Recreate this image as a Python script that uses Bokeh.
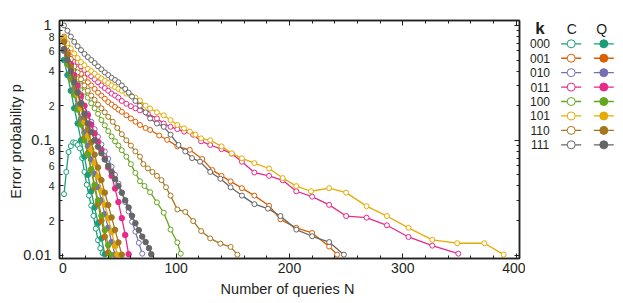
from bokeh.plotting import figure
from bokeh.layouts import row
from bokeh.models import Range1d, LinearAxis, LogAxis, FixedTicker, CustomLabelingPolicy
from bokeh.core.properties import value
from bokeh.embed import file_html
from bokeh.resources import INLINE

# ---------------- data ----------------
K = ["000", "001", "010", "011", "100", "101", "110", "111"]
COLORS = ["#1b9e77", "#d95f02", "#7570b3", "#e7298a", "#66a61e", "#e6ab02", "#a6761d", "#666666"]

# classical strategy (C, open markers)
N_C_000 = [1, 3, 5, 7, 9, 11, 13, 15, 17, 19, 21, 23, 25, 27, 29, 31, 33, 35]
P_C_000 = [0.034, 0.053, 0.079, 0.089, 0.096, 0.095, 0.091, 0.085, 0.07, 0.053, 0.041, 0.033, 0.027, 0.022, 0.017, 0.0135, 0.0115, 0.0104]

N_C_001 = [1, 4, 7, 10, 13, 16, 19, 22, 25, 28, 31, 34, 37, 40, 43, 46, 49, 52, 56, 60, 64, 68, 73, 77, 85, 92, 101, 112, 123, 132, 140, 148, 158, 169, 182, 192, 206, 220, 235, 242]
P_C_001 = [0.8, 0.66, 0.56, 0.48, 0.42, 0.38, 0.35, 0.32, 0.3, 0.28, 0.26, 0.245, 0.23, 0.215, 0.205, 0.195, 0.185, 0.177, 0.165, 0.155, 0.145, 0.136, 0.128, 0.123, 0.11, 0.101, 0.0885, 0.0826, 0.0687, 0.055, 0.049, 0.0439, 0.0383, 0.033, 0.0269, 0.0205, 0.0173, 0.0156, 0.0119, 0.0101]

N_C_010 = [1, 4, 7, 10, 13, 16, 19, 22, 25, 28, 31, 34, 37, 40, 43, 46, 49, 52, 55, 58, 61, 64, 67, 70]
P_C_010 = [0.62, 0.5, 0.41, 0.34, 0.28, 0.235, 0.2, 0.17, 0.145, 0.125, 0.107, 0.092, 0.08, 0.069, 0.059, 0.05, 0.042, 0.035, 0.029, 0.024, 0.0195, 0.016, 0.0128, 0.0103]

N_C_011 = [1, 4, 7, 10, 13, 16, 19, 22, 25, 28, 31, 34, 37, 40, 43, 46, 49, 52, 56, 60, 64, 68, 75, 83, 89, 95, 101, 107, 115, 122, 130, 140, 149, 158, 169, 182, 194, 206, 220, 235, 250, 268, 286, 305, 326, 349]
P_C_011 = [0.75, 0.66, 0.59, 0.53, 0.48, 0.44, 0.41, 0.38, 0.36, 0.34, 0.32, 0.3, 0.285, 0.27, 0.255, 0.245, 0.235, 0.22, 0.208, 0.198, 0.19, 0.182, 0.17, 0.155, 0.14, 0.131, 0.125, 0.119, 0.112, 0.098, 0.091, 0.0837, 0.0765, 0.065, 0.0524, 0.049, 0.0448, 0.036, 0.0323, 0.0274, 0.0219, 0.0212, 0.0182, 0.0144, 0.0121, 0.0103]

N_C_100 = [1, 4, 7, 10, 13, 16, 19, 22, 25, 28, 31, 34, 37, 40, 43, 46, 49, 52, 56, 60, 64, 68, 72, 77, 83, 89, 95, 101, 104]
P_C_100 = [0.62, 0.52, 0.45, 0.39, 0.34, 0.3, 0.265, 0.235, 0.21, 0.19, 0.17, 0.15, 0.135, 0.12, 0.108, 0.098, 0.09, 0.082, 0.072, 0.062, 0.052, 0.044, 0.04, 0.0353, 0.0288, 0.0234, 0.0167, 0.0129, 0.0103]

N_C_101 = [1, 4, 7, 10, 13, 16, 19, 22, 25, 28, 31, 34, 37, 40, 43, 46, 49, 52, 56, 60, 64, 68, 73, 77, 83, 89, 95, 101, 107, 112, 117, 122, 130, 140, 149, 158, 169, 182, 194, 206, 219, 235, 250, 268, 286, 305, 326, 348, 372, 389]
P_C_101 = [0.78, 0.7, 0.63, 0.57, 0.52, 0.48, 0.45, 0.42, 0.4, 0.38, 0.36, 0.345, 0.33, 0.315, 0.3, 0.29, 0.28, 0.27, 0.255, 0.245, 0.235, 0.222, 0.2, 0.189, 0.175, 0.165, 0.15, 0.136, 0.127, 0.119, 0.112, 0.104, 0.1, 0.0885, 0.077, 0.0697, 0.0633, 0.0568, 0.0469, 0.0399, 0.036, 0.0383, 0.035, 0.0267, 0.0219, 0.0173, 0.0136, 0.0127, 0.0127, 0.0101]

N_C_110 = [1, 4, 7, 10, 13, 16, 19, 22, 25, 28, 31, 34, 37, 40, 44, 48, 52, 56, 60, 64, 68, 71, 75, 79, 83, 87, 91, 95, 101, 108, 115, 122, 130, 139, 148, 154]
P_C_110 = [0.72, 0.6, 0.51, 0.44, 0.39, 0.34, 0.3, 0.27, 0.245, 0.225, 0.205, 0.19, 0.175, 0.16, 0.145, 0.128, 0.113, 0.1, 0.09, 0.08, 0.072, 0.062, 0.057, 0.053, 0.049, 0.045, 0.039, 0.033, 0.025, 0.0238, 0.0198, 0.0162, 0.014, 0.0126, 0.0118, 0.0101]

N_C_111 = [1, 4, 7, 10, 13, 16, 19, 22, 25, 28, 31, 34, 37, 40, 43, 46, 49, 52, 55, 58, 61, 64, 68, 73, 77, 83, 89, 95, 102, 108, 114, 121, 130, 139, 148, 158, 169, 181, 192, 206, 220, 235, 248]
P_C_111 = [1.0, 0.9, 0.8, 0.72, 0.66, 0.61, 0.565, 0.53, 0.5, 0.47, 0.44, 0.415, 0.39, 0.37, 0.35, 0.335, 0.32, 0.3, 0.28, 0.26, 0.24, 0.22, 0.2, 0.175, 0.155, 0.14, 0.131, 0.112, 0.091, 0.08, 0.07, 0.0652, 0.053, 0.0462, 0.039, 0.033, 0.0278, 0.0254, 0.0219, 0.0167, 0.0146, 0.013, 0.0101]

# quantum strategy (Q, filled markers)
N_Q_000 = [1, 4, 7, 10, 13, 16, 19, 22, 25, 28, 31, 34, 37]
P_Q_000 = [0.5, 0.37, 0.27, 0.19, 0.14, 0.1, 0.072, 0.05, 0.036, 0.026, 0.019, 0.014, 0.0102]

N_Q_001 = [1, 4, 7, 10, 13, 16, 19, 22, 25, 28, 31, 34, 37, 40]
P_Q_001 = [0.75, 0.54, 0.39, 0.28, 0.2, 0.146, 0.105, 0.077, 0.055, 0.039, 0.028, 0.02, 0.0145, 0.0105]

N_Q_010 = [1, 4, 7, 10, 13, 16, 19, 22, 25, 28, 31, 34, 37, 40, 43, 46]
P_Q_010 = [0.6, 0.46, 0.35, 0.265, 0.2, 0.153, 0.117, 0.089, 0.068, 0.051, 0.039, 0.03, 0.0227, 0.0173, 0.013, 0.0101]

N_Q_011 = [1, 4, 7, 10, 13, 16, 19, 22, 25, 28, 31, 34, 37, 40, 43, 46, 49, 52, 55, 58]
P_Q_011 = [0.72, 0.58, 0.46, 0.37, 0.3, 0.245, 0.2, 0.165, 0.137, 0.115, 0.097, 0.082, 0.069, 0.058, 0.049, 0.038, 0.029, 0.021, 0.015, 0.0102]

N_Q_100 = [1, 4, 7, 10, 13, 16, 19, 22, 25, 28, 31, 34, 37, 40, 42]
P_Q_100 = [0.62, 0.46, 0.34, 0.25, 0.185, 0.137, 0.1, 0.075, 0.056, 0.041, 0.03, 0.022, 0.0165, 0.0122, 0.0101]

N_Q_101 = [1, 4, 7, 10, 13, 16, 19, 22, 25, 28, 31, 34, 37, 40, 43, 46, 48]
P_Q_101 = [0.75, 0.57, 0.43, 0.33, 0.25, 0.19, 0.144, 0.109, 0.083, 0.063, 0.048, 0.036, 0.0275, 0.021, 0.0159, 0.012, 0.0101]

N_Q_110 = [1, 4, 7, 10, 13, 16, 19, 22, 25, 28, 31, 34, 37, 40, 43, 46, 49, 52]
P_Q_110 = [0.72, 0.56, 0.435, 0.34, 0.263, 0.205, 0.159, 0.124, 0.096, 0.075, 0.058, 0.045, 0.035, 0.0273, 0.0213, 0.0166, 0.0129, 0.0101]

N_Q_111 = [1, 4, 7, 10, 13, 16, 19, 22, 25, 28, 31, 34, 37, 40, 43, 46, 49, 52, 55, 58, 61, 64, 67, 70, 73, 76, 78]
P_Q_111 = [0.62, 0.5, 0.4, 0.32, 0.26, 0.21, 0.17, 0.14, 0.118, 0.1, 0.088, 0.077, 0.068, 0.06, 0.053, 0.046, 0.04, 0.035, 0.03, 0.026, 0.022, 0.019, 0.0165, 0.0145, 0.013, 0.0115, 0.0102]

C_SERIES = [(N_C_000, P_C_000), (N_C_001, P_C_001), (N_C_010, P_C_010), (N_C_011, P_C_011),
            (N_C_100, P_C_100), (N_C_101, P_C_101), (N_C_110, P_C_110), (N_C_111, P_C_111)]
Q_SERIES = [(N_Q_000, P_Q_000), (N_Q_001, P_Q_001), (N_Q_010, P_Q_010), (N_Q_011, P_Q_011),
            (N_Q_100, P_Q_100), (N_Q_101, P_Q_101), (N_Q_110, P_Q_110), (N_Q_111, P_Q_111)]

X_MAJOR = [0, 100, 200, 300, 400]
X_MINOR = [v for v in range(0, 401, 20) if v % 100]
Y_DECADES = [0.01, 0.1, 1]
Y_LABELED = [0.02, 0.04, 0.06, 0.08, 0.2, 0.4, 0.6, 0.8]
Y_MINOR = [0.03, 0.05, 0.07, 0.09, 0.3, 0.5, 0.7, 0.9]
Y_DECADE_TEXT = ["0.01", "0.1", "1"]
X_TITLE = "Number of queries  N"
Y_TITLE = "Error probability  p"

FONT = "Liberation Sans"
TXT = "#231f20"
LINE = "#222222"
X0, X1 = -3, 403
Y0, Y1 = 0.00935, 1.104

# ---------------- main plot ----------------
p = figure(x_range=Range1d(X0, X1), y_range=Range1d(Y0, Y1), y_axis_type="log",
           frame_width=460, frame_height=238, min_border_left=59, min_border_top=20,
           min_border_right=6, min_border_bottom=42,
           toolbar_location=None, output_backend="svg")
p.grid.visible = False
p.outline_line_color = LINE
p.outline_line_width = 1.5

no_labels = CustomLabelingPolicy(code="""
for (let i = 0; i < indices.size; i++) { indices.unset(i) }
return indices
""")

def style_axis(ax, labels=True):
    ax.axis_line_color = LINE
    ax.axis_line_width = 1.5
    ax.major_tick_in = 5
    ax.major_tick_out = 0
    ax.minor_tick_in = 3
    ax.minor_tick_out = 0
    ax.major_tick_line_color = LINE
    ax.minor_tick_line_color = LINE
    ax.major_label_text_font = FONT
    ax.major_label_text_color = TXT
    ax.axis_label_text_font = FONT
    ax.axis_label_text_color = TXT
    ax.axis_label_text_font_style = "normal"
    ax.axis_label_text_font_size = "14.5px"
    if not labels:
        ax.major_label_policy = no_labels
        ax.major_label_text_font_size = "0px"
        ax.major_label_standoff = 0

xt = FixedTicker(ticks=X_MAJOR, minor_ticks=X_MINOR)

xa = p.xaxis[0]
xa.ticker = xt
style_axis(xa)
xa.major_label_text_font_size = "14px"
xa.major_label_standoff = 4
xa.axis_label = X_TITLE
xa.axis_label_standoff = 5

# inner left axis: ticks + small intermediate labels
ya = p.yaxis[0]
ya.ticker = FixedTicker(ticks=Y_DECADES + Y_LABELED, minor_ticks=Y_MINOR)
style_axis(ya)
ya.major_tick_in = 4
ya.major_label_text_font_size = "10.5px"
ya.major_label_standoff = 5
ov = {t: "" for t in Y_DECADES}
for t in Y_LABELED:
    ov[t] = str(int(round(t / (0.01 if t < 0.1 else 0.1))))
ya.major_label_overrides = ov

# outer left axis: large decade labels pulled back over the inner labels + title
ya2 = LogAxis(ticker=FixedTicker(ticks=Y_DECADES, minor_ticks=[]))
style_axis(ya2)
ya2.axis_line_color = None
ya2.major_tick_line_color = None
ya2.minor_tick_line_color = None
ya2.major_label_text_font_size = "14.5px"
ya2.major_label_standoff = -6
ya2.major_label_overrides = {t: s for t, s in zip(Y_DECADES, Y_DECADE_TEXT)}
ya2.axis_label = Y_TITLE
ya2.axis_label_standoff = -4
p.add_layout(ya2, "left")

top = LinearAxis(ticker=xt)
style_axis(top, labels=False)
top.major_label_overrides = {t: "" for t in X_MAJOR}
p.add_layout(top, "above")
right = LogAxis(ticker=FixedTicker(ticks=Y_DECADES, minor_ticks=Y_LABELED + Y_MINOR))
style_axis(right, labels=False)
right.major_label_overrides = {t: "" for t in Y_DECADES}
p.add_layout(right, "right")

for (n, pv), c in zip(C_SERIES, COLORS):
    p.line(n, pv, line_color=c, line_width=1.3)
    p.scatter(n, pv, marker="circle", size=5, line_color=c, fill_color="white", line_width=1)
for (n, pv), c in zip(Q_SERIES, COLORS):
    p.line(n, pv, line_color=c, line_width=1.3)
    p.scatter(n, pv, marker="circle", size=5.5, line_color=c, fill_color=c, line_width=1)

# ---------------- legend panel ----------------
# its plot frame is aligned with the main frame (page y 20..258), so use that as y space
LW, LH = 90, 300
ROW0, ROW_STEP = 43.3, 14.43
HEAD_Y = 27.5
K_X, C_X, Q_X = 14.5, 45.7, 78.3
SEG_HALF = 10

lg = figure(width=LW, height=LH, x_range=Range1d(0, LW), y_range=Range1d(258, 20),
            x_axis_location=None, y_axis_location=None, min_border=0,
            toolbar_location=None, output_backend="svg")
lg.grid.visible = False
lg.outline_line_color = None

ys = [ROW0 + i * ROW_STEP for i in range(len(K))]
lg.text(x=[K_X], y=[HEAD_Y], text=["k"], text_font=value(FONT), text_font_size=value("17px"),
        text_font_style="bold", text_align="center", text_baseline="middle", text_color=TXT)
lg.text(x=[C_X + 0.5, Q_X - 2], y=[HEAD_Y + 1, HEAD_Y + 1], text=["C", "Q"], text_font=value(FONT),
        text_font_size=value("14px"), text_align="center", text_baseline="middle", text_color=TXT)
lg.text(x=[K_X] * len(K), y=ys, text=K, text_font=value(FONT), text_font_size=value("12px"),
        text_align="center", text_baseline="middle", text_color=TXT)
lg.segment(x0=[C_X - SEG_HALF] * len(K), x1=[C_X + SEG_HALF] * len(K), y0=ys, y1=ys,
           line_color=COLORS, line_width=1.3)
lg.scatter(x=[C_X] * len(K), y=ys, marker="circle", size=8, line_color=COLORS,
           fill_color="white", line_width=1)
lg.segment(x0=[Q_X - SEG_HALF] * len(K), x1=[Q_X + SEG_HALF] * len(K), y0=ys, y1=ys,
           line_color=COLORS, line_width=1.3)
lg.scatter(x=[Q_X] * len(K), y=ys, marker="circle", size=8, line_color=COLORS,
           fill_color=COLORS, line_width=1)

layout = row(p, lg)
open("out.html", "w").write(file_html(layout, INLINE))
